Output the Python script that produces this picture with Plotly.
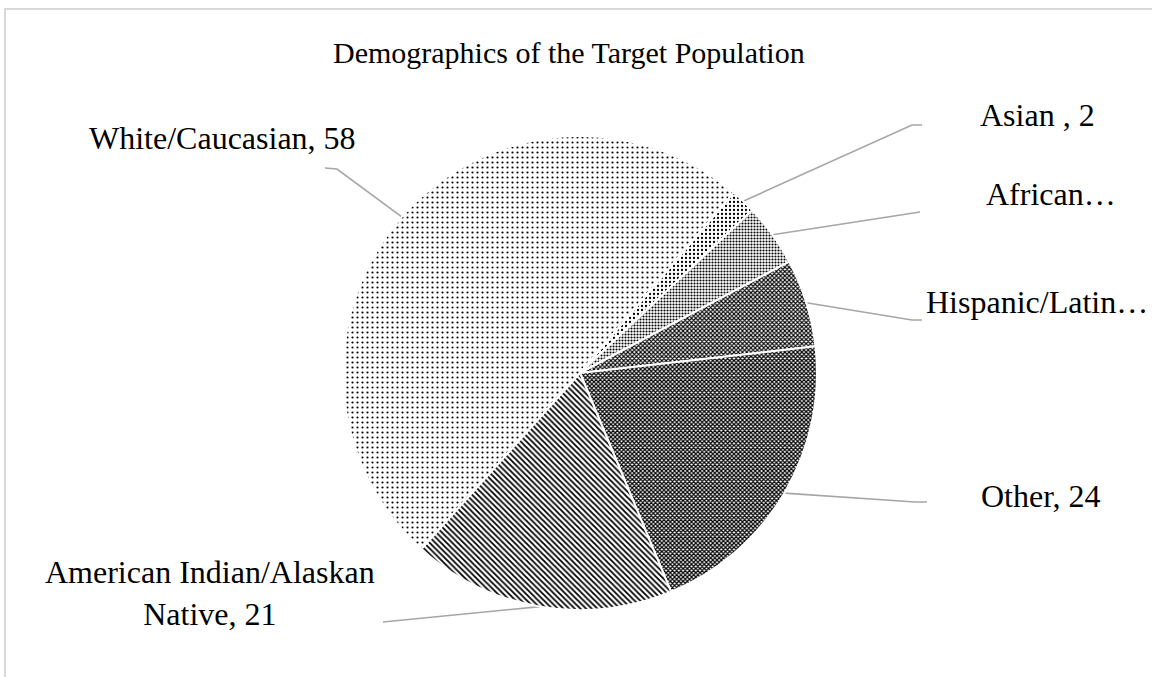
import math
import plotly.graph_objects as go

# Survey counts by group (in clockwise drawing order)
categories = ["White/Caucasian", "Asian", "African American", "Hispanic/Latino",
              "Other", "American Indian/Alaskan Native"]
counts = [58, 2, 5, 7, 24, 21]
label_text = ["White/Caucasian, 58", "Asian , 2", "African…", "Hispanic/Latin…",
              "Other, 24", "American Indian/Alaskan<br>Native, 21"]
title_text = "Demographics of the Target Population"

# Canvas and pie geometry (pixels)
W, H = 1152, 677
CX, CY, R = 580, 373, 237
ROTATION = 222

# Monochrome fill patterns per slice: (shape, size, solidity)
patterns = [
    (".", 5, 0.15),
    (".", 4, 0.25),
    (".", 3, 0.40),
    ("x", 3, 0.58),
    ("x", 3, 0.64),
    ("\\", 4, 0.45),
]

# Label anchors (x, y, xanchor) and leader-line elbows (pixels)
label_pos = [(222, 138, "center"), (1037, 115, "center"), (1051, 194, "center"),
             (1150, 302, "right"), (1041, 496, "center"), (210, 593, "center")]
leader_elbows = [
    [(337, 169), (325, 168)],
    [(912, 125), (922, 125)],
    [(912, 213), (920, 212)],
    [(912, 320), (922, 320)],
    [(915, 502), (927, 502)],
    [(395, 621), (383, 622)],
]

FONT = "Liberation Serif"

fig = go.Figure()

fig.add_trace(go.Pie(
    labels=categories,
    values=counts,
    sort=False,
    direction="clockwise",
    rotation=ROTATION,
    textinfo="none",
    hoverinfo="label+value",
    showlegend=False,
    domain=dict(x=[(CX - R) / W, (CX + R) / W], y=[1 - (CY + R) / H, 1 - (CY - R) / H]),
    marker=dict(
        colors=["white"] * len(counts),
        line=dict(color="white", width=2),
        pattern=dict(
            shape=[p[0] for p in patterns],
            size=[p[1] for p in patterns],
            solidity=[p[2] for p in patterns],
            fgcolor="black",
            bgcolor="white",
            fillmode="replace",
        ),
    ),
))

# Leader lines from each slice's outer midpoint to its label
total = sum(counts)
cum = 0
for i, v in enumerate(counts):
    mid = math.radians(ROTATION + (cum + v / 2) / total * 360)
    cum += v
    sx = CX + R * math.sin(mid)
    sy = CY - R * math.cos(mid)
    pts = [(sx, sy)] + leader_elbows[i]
    fig.add_trace(go.Scatter(
        x=[p[0] for p in pts], y=[p[1] for p in pts],
        mode="lines", line=dict(color="#a6a6a6", width=1.6),
        hoverinfo="skip", showlegend=False,
    ))

annotations = [dict(
    x=569, y=52, xref="x", yref="y", text=title_text, showarrow=False,
    font=dict(family=FONT, size=30, color="black"), xanchor="center", yanchor="middle",
)]
for (lx, ly, anchor), t in zip(label_pos, label_text):
    annotations.append(dict(
        x=lx, y=ly, xref="x", yref="y", text=t, showarrow=False,
        font=dict(family=FONT, size=32, color="black"),
        xanchor=anchor, yanchor="middle", align="center",
    ))

fig.update_layout(
    width=W, height=H,
    margin=dict(l=0, r=0, t=0, b=0),
    paper_bgcolor="white", plot_bgcolor="white",
    xaxis=dict(range=[0, W], visible=False, fixedrange=True),
    yaxis=dict(range=[H, 0], visible=False, fixedrange=True),
    annotations=annotations,
    shapes=[dict(
        type="rect", xref="paper", yref="paper",
        x0=5 / W, x1=1 + 20 / W, y0=-20 / H, y1=1 - 9 / H,
        line=dict(color="#d9d9d9", width=2), fillcolor="rgba(0,0,0,0)", layer="below",
    )],
)

fig.write_html("out.html")
